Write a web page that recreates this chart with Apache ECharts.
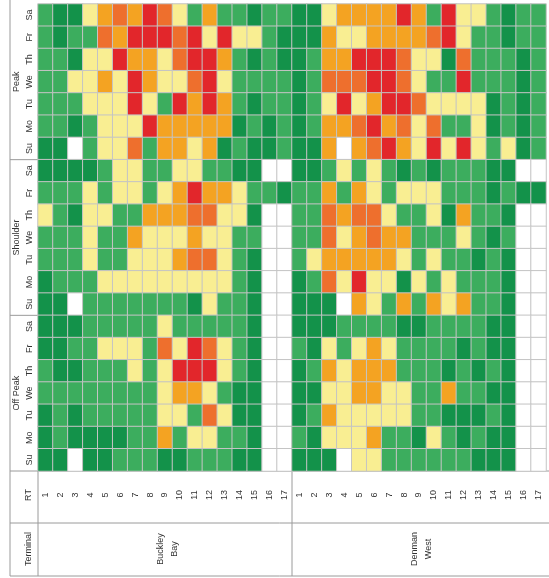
<!DOCTYPE html>
<html><head><meta charset="utf-8">
<script src="https://cdn.jsdelivr.net/npm/echarts/dist/echarts.min.js"></script>
<style>html,body{margin:0;padding:0;background:#fff}#c{width:549px;height:578px}</style>
</head><body><div id="c"></div>
<script>
// Category labels
const rtNumbers = ['1','2','3','4','5','6','7','8','9','10','11','12','13','14','15','16','17'];
const terminals = ['Buckley\nBay', 'Denman\nWest'];
const periods = ['Peak', 'Shoulder', 'Off Peak'];
const days = ['Sa', 'Fr', 'Th', 'We', 'Tu', 'Mo', 'Su'];
// Level codes: 0 blank, 1 dark green, 2 green, 3 yellow, 4 orange, 5 dark orange, 6 red
const levelColors = ['#ffffff', '#13924a', '#3cad5e', '#f9ee92', '#f4a322', '#ee6f2d', '#e2262b'];

// Rows: Sa, Fr, Th, We, Tu, Mo, Su ; columns RT 1..17
const peakBuckley = [
  [2,1,1,3,4,5,4,6,5,3,2,4,2,2,1,2,2],
  [2,1,2,2,5,4,6,6,6,5,6,3,6,3,3,2,1],
  [2,2,1,3,3,6,4,4,3,5,6,6,4,2,1,2,1],
  [2,2,3,3,4,3,6,4,3,3,5,6,3,2,2,2,2],
  [2,2,2,3,3,3,6,3,2,6,4,6,4,2,1,2,2],
  [2,2,1,2,3,3,3,6,4,4,4,4,4,1,2,1,2],
  [1,1,0,2,3,3,5,2,4,4,3,4,1,2,1,1,2]
];
const peakDenman = [
  [1,1,3,4,4,4,4,6,4,2,6,3,3,2,1,2,2],
  [1,1,4,3,3,4,4,4,4,5,6,3,2,2,1,2,2],
  [1,2,4,4,6,6,6,5,3,3,1,5,2,2,2,1,2],
  [1,2,5,5,5,6,6,5,3,2,2,6,2,2,2,1,2],
  [1,2,3,6,3,4,6,6,5,3,3,3,3,1,2,1,2],
  [1,2,4,4,5,6,4,5,3,5,2,2,3,1,2,1,2],
  [1,1,4,0,4,5,6,4,3,6,3,6,3,2,3,1,2]
];
const shoulderBuckley = [
  [1,1,1,1,2,3,3,2,2,3,3,2,2,1,1,0,0],
  [2,2,2,3,2,3,3,2,3,4,6,4,4,3,2,2,1],
  [3,2,1,3,3,2,2,4,4,4,5,5,3,3,1,0,0],
  [2,2,2,3,2,2,4,3,3,3,4,3,3,2,2,0,0],
  [2,2,2,3,2,2,3,3,3,4,5,5,3,2,1,0,0],
  [1,2,2,2,3,3,3,3,3,3,3,3,3,2,1,0,0],
  [1,1,0,2,2,2,2,2,2,2,1,3,2,2,1,0,0]
];
const shoulderDenman = [
  [1,1,2,3,2,3,2,1,2,1,2,2,2,1,1,0,0],
  [2,2,4,2,4,3,2,3,3,3,2,2,2,1,2,1,1],
  [2,2,5,4,5,5,3,2,2,3,1,4,2,2,1,0,0],
  [2,2,5,3,4,5,4,4,2,2,2,3,2,1,2,0,0],
  [2,3,4,4,4,4,4,3,2,3,2,2,1,2,1,0,0],
  [1,2,5,3,6,3,3,1,3,2,3,2,2,2,1,0,0],
  [1,1,1,0,4,3,2,4,2,4,3,4,2,2,1,0,0]
];
const offPeakBuckley = [
  [1,1,1,2,2,2,2,2,3,2,2,2,2,2,1,0,0],
  [1,1,2,2,3,3,3,2,5,3,6,5,3,2,1,0,0],
  [2,1,1,2,2,2,3,2,3,6,6,6,3,2,1,0,0],
  [2,2,2,2,2,2,2,2,3,4,4,3,2,1,1,0,0],
  [1,2,1,2,2,2,2,2,3,3,2,5,3,1,1,0,0],
  [1,2,1,1,1,1,2,2,4,2,3,3,2,2,1,0,0],
  [1,1,0,1,1,2,2,2,1,1,2,2,2,1,1,0,0]
];
const offPeakDenman = [
  [1,1,1,2,2,2,2,1,1,2,2,2,2,1,1,0,0],
  [2,1,3,2,3,4,3,2,2,2,2,1,2,1,1,0,0],
  [1,2,4,3,4,4,4,2,2,2,1,2,1,2,1,0,0],
  [1,1,3,3,4,4,3,3,2,2,4,2,2,1,1,0,0],
  [1,2,4,3,3,3,3,3,2,2,1,1,1,2,1,0,0],
  [2,1,3,3,3,4,2,2,1,3,2,1,2,1,1,0,0],
  [1,1,1,0,3,3,2,2,2,2,2,2,1,1,1,0,0]
];

const blocks = [
  [peakBuckley, peakDenman],
  [shoulderBuckley, shoulderDenman],
  [offPeakBuckley, offPeakDenman]
];

const xCats = [].concat(rtNumbers, rtNumbers);
const yCats = [];
periods.forEach(() => days.forEach(d => yCats.push(d)));

const data = [];
blocks.forEach((pair, p) => {
  pair.forEach((rows, t) => {
    rows.forEach((row, r) => {
      row.forEach((v, c) => {
        data.push([t * rtNumbers.length + c, p * days.length + r, v]);
      });
    });
  });
});

const G = {left: 38, right: 3, top: 4, bottom: 107};
const W = 549, H = 578;
const gridBottomY = H - G.bottom;
const rowH = (H - G.top - G.bottom) / yCats.length;
const secH = rowH * days.length;
const midX = G.left + (W - G.left - G.right) / 2;

const lineStyle = {stroke: '#9a9a9a', lineWidth: 1};
function hline(y, x1, x2) { return {type: 'line', shape: {x1: x1, y1: y, x2: x2, y2: y}, style: lineStyle, silent: true}; }
function vline(x, y1, y2) { return {type: 'line', shape: {x1: x, y1: y1, x2: x, y2: y2}, style: lineStyle, silent: true}; }
function rtext(txt, x, y, size) {
  return {type: 'text', x: x, y: y, rotation: Math.PI / 2, silent: true,
    style: {text: txt, fill: '#333', font: size + 'px "Liberation Sans", Arial, sans-serif', align: 'center', verticalAlign: 'middle', lineHeight: size + 5}};
}

const graphics = [
  vline(10, 0, 576), hline(576, 10, 549), hline(523, 10, 549), hline(gridBottomY, 10, 549),
  vline(G.left, gridBottomY, 576), vline(midX, gridBottomY, 576),
  hline(G.top + secH, 10, G.left), hline(G.top + 2 * secH, 10, G.left),
  rtext('RT', 29, 495, 9), rtext('Terminal', 29, 549, 9),
  rtext(terminals[0], (G.left + midX) / 2 + 3, 549, 9),
  rtext(terminals[1], (midX + W - G.right) / 2 + 3, 549, 9)
];
periods.forEach((p, i) => graphics.push(rtext(p, 17, G.top + secH * (i + 0.5), 9)));

const chart = echarts.init(document.getElementById('c'), null, {renderer: 'canvas'});
chart.setOption({
  animation: false,
  backgroundColor: '#fff',
  grid: {left: G.left, right: G.right, top: G.top, bottom: G.bottom},
  xAxis: {
    type: 'category', data: xCats, position: 'bottom',
    axisLine: {show: false}, axisTick: {show: false}, splitLine: {show: false},
    axisLabel: {interval: 0, rotate: 90, align: 'center', verticalAlign: 'middle', margin: 24,
      fontSize: 9, color: '#333', fontFamily: '"Liberation Sans", Arial, sans-serif'}
  },
  yAxis: {
    type: 'category', data: yCats, inverse: true,
    axisLine: {show: false}, axisTick: {show: false}, splitLine: {show: false},
    axisLabel: {interval: 0, rotate: 90, align: 'center', verticalAlign: 'middle', margin: 8,
      fontSize: 9, color: '#333', fontFamily: '"Liberation Sans", Arial, sans-serif'}
  },
  visualMap: {
    type: 'piecewise', show: false, dimension: 2,
    pieces: levelColors.map((c, i) => ({value: i, color: c}))
  },
  series: [{
    type: 'heatmap', data: data,
    itemStyle: {borderColor: '#c4c4c4', borderWidth: 1},
    emphasis: {disabled: true}
  }],
  graphic: graphics
});
</script>
</body></html>
